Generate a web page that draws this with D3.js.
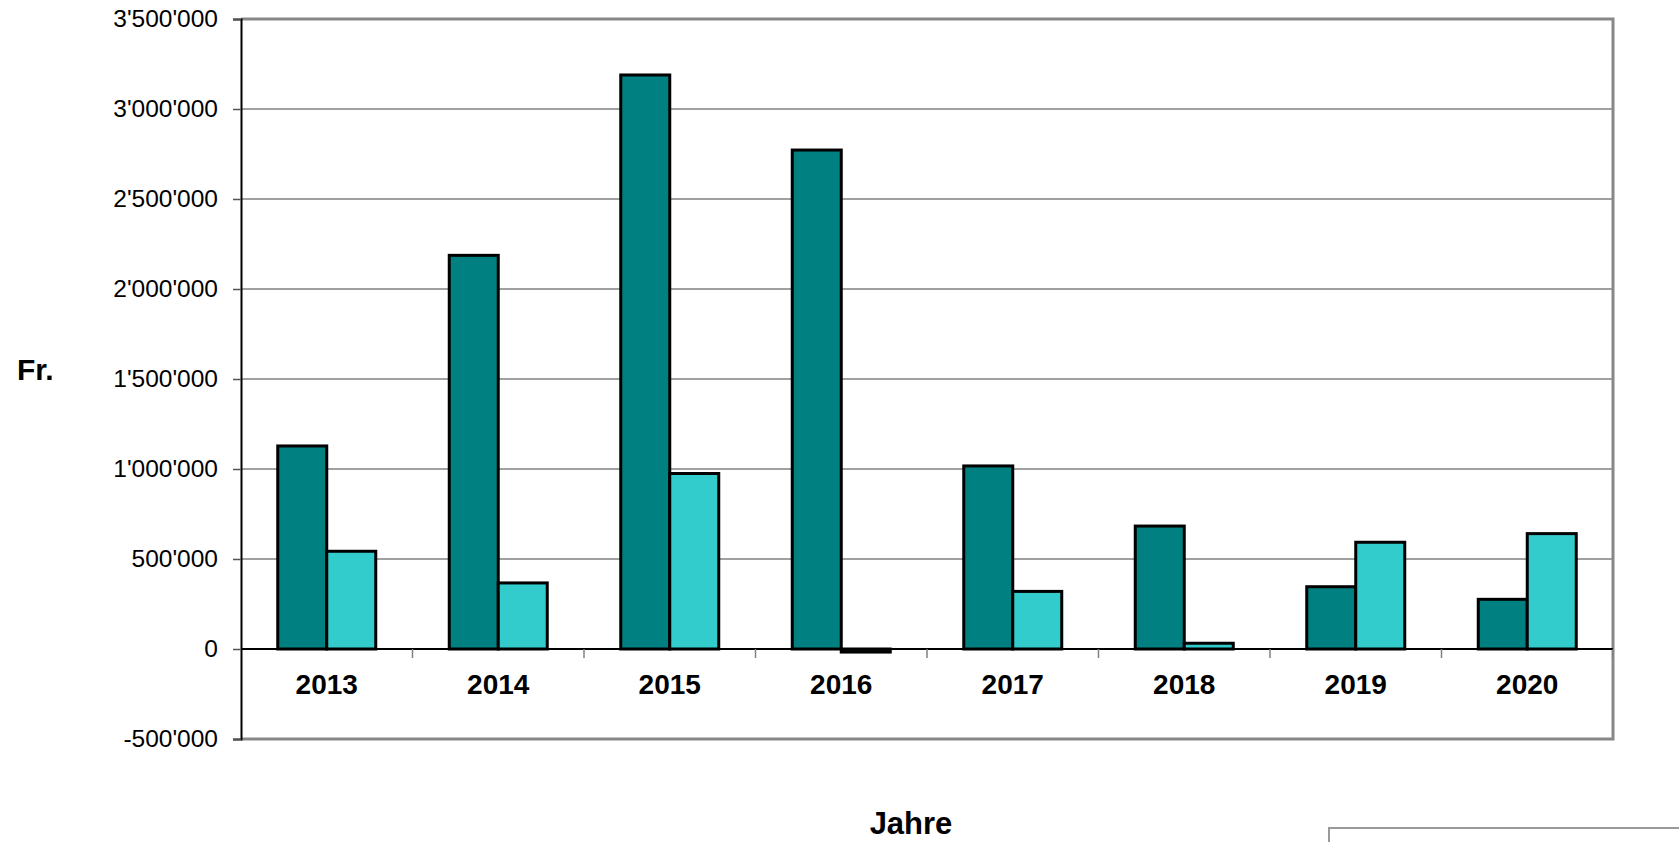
<!DOCTYPE html>
<html>
<head>
<meta charset="utf-8">
<script src="https://cdn.jsdelivr.net/npm/d3@7"></script>
<style>
  body { margin: 0; background: #fff; }
  text { font-family: "Liberation Sans", Arial, sans-serif; }
</style>
</head>
<body>
<svg id="chart" width="1679" height="842"></svg>
<script>
// data
const years = ["2013", "2014", "2015", "2016", "2017", "2018", "2019", "2020"];
const seriesNames = ["Reihe 1", "Reihe 2"];
const series1 = [1128000, 2187000, 3189000, 2772000, 1017000, 683000, 346000, 276000];
const series2 = [543000, 367000, 975000, -17000, 320000, 32000, 593000, 641000];
const yTicks = [-500000, 0, 500000, 1000000, 1500000, 2000000, 2500000, 3000000, 3500000];

const colors = ["#008080", "#33CCCC"];

const svg = d3.select("#chart");
const plotLeft = 241, plotRight = 1613, plotTop = 19, plotBottom = 739;

const y = d3.scaleLinear()
    .domain([-500000, 3500000])
    .range([plotBottom, plotTop]);

const x0 = d3.scaleBand()
    .domain(years)
    .range([plotLeft, plotRight]);

const bw = x0.bandwidth();
const x1 = d3.scaleBand()
    .domain(seriesNames)
    .range([bw * 0.75 / 3.5, bw - bw * 0.75 / 3.5]);

const loc = d3.formatLocale({ decimal: ".", thousands: "'", grouping: [3], currency: ["", ""], minus: "-" });
const fmt = loc.format(",d");

// gridlines
svg.append("g")
  .selectAll("line")
  .data(yTicks.filter(d => d !== 0 && d !== -500000 && d !== 3500000))
  .join("line")
    .attr("x1", plotLeft).attr("x2", plotRight)
    .attr("y1", d => y(d)).attr("y2", d => y(d))
    .attr("stroke", "#808080")
    .attr("stroke-width", 1.5);

// plot frame (top, right, bottom in grey)
svg.append("path")
    .attr("d", `M${plotLeft},${plotTop}H${plotRight}V${plotBottom}H${plotLeft}`)
    .attr("fill", "none")
    .attr("stroke", "#888")
    .attr("stroke-width", 3);

// bars
const data = years.map((yr, i) => ({ year: yr, vals: [series1[i], series2[i]] }));
const groups = svg.append("g")
  .selectAll("g")
  .data(data)
  .join("g")
    .attr("transform", d => `translate(${x0(d.year)},0)`);

groups.selectAll("rect")
  .data(d => d.vals.map((v, k) => ({ key: seriesNames[k], value: v, k: k })))
  .join("rect")
    .attr("x", d => x1(d.key))
    .attr("width", x1.bandwidth())
    .attr("y", d => y(Math.max(0, d.value)))
    .attr("height", d => Math.abs(y(d.value) - y(0)))
    .attr("fill", d => colors[d.k])
    .attr("stroke", "#000")
    .attr("stroke-width", 3);

// zero line
svg.append("line")
    .attr("x1", plotLeft).attr("x2", plotRight)
    .attr("y1", y(0)).attr("y2", y(0))
    .attr("stroke", "#000")
    .attr("stroke-width", 2);

// category ticks
svg.append("g")
  .selectAll("line")
  .data(years.slice(1).concat(["end"]))
  .join("line")
    .attr("x1", (d, i) => plotLeft + bw * (i + 1))
    .attr("x2", (d, i) => plotLeft + bw * (i + 1))
    .attr("y1", y(0)).attr("y2", y(0) + 9)
    .attr("stroke", "#808080")
    .attr("stroke-width", 1.5);

// y axis
const yAxis = svg.append("g")
    .attr("transform", `translate(${plotLeft},0)`)
    .call(d3.axisLeft(y).tickValues(yTicks).tickFormat(fmt).tickSize(8).tickPadding(15));
yAxis.select(".domain").attr("stroke", "#000").attr("stroke-width", 2);
yAxis.selectAll(".tick line").attr("stroke", "#555").attr("stroke-width", 1.5);
yAxis.selectAll(".tick text")
    .attr("font-family", "Liberation Sans, Arial, sans-serif")
    .attr("font-size", 24.5)
    .attr("fill", "#000");

// year labels
svg.append("g")
  .selectAll("text")
  .data(years)
  .join("text")
    .attr("x", d => x0(d) + bw / 2)
    .attr("y", 694)
    .attr("text-anchor", "middle")
    .attr("font-size", 28)
    .attr("font-weight", "bold")
    .text(d => d);

// axis titles
svg.append("text")
    .attr("x", 17).attr("y", 380)
    .attr("font-size", 30)
    .attr("font-weight", "bold")
    .text("Fr.");

svg.append("text")
    .attr("x", 911).attr("y", 834)
    .attr("text-anchor", "middle")
    .attr("font-size", 31)
    .attr("font-weight", "bold")
    .text("Jahre");

// legend box (cut off at the page edge)
svg.append("rect")
    .attr("x", 1329).attr("y", 828)
    .attr("width", 400).attr("height", 60)
    .attr("fill", "#fff")
    .attr("stroke", "#999")
    .attr("stroke-width", 2);
</script>
</body>
</html>
